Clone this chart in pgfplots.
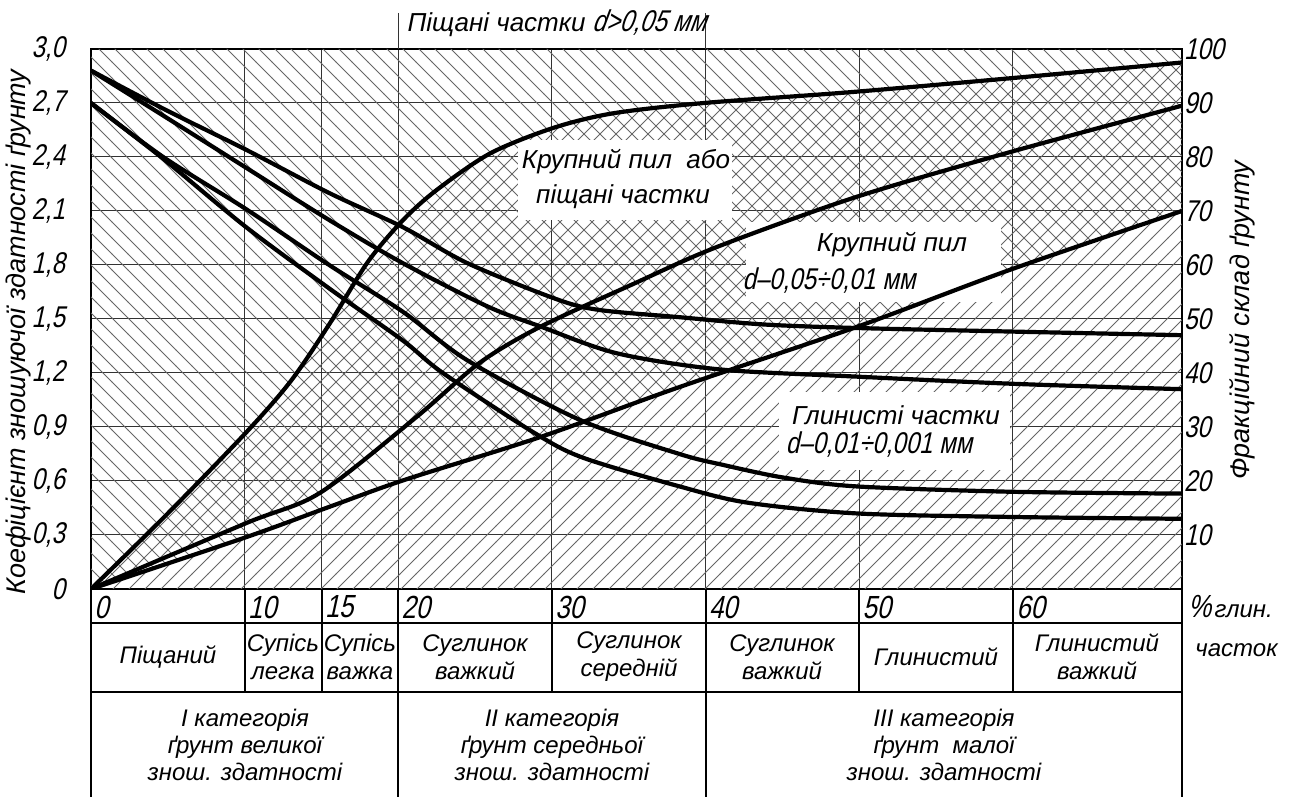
\documentclass[border=0pt]{standalone}
\usepackage{fontspec}
\setmainfont{Liberation Sans}
\newfontfamily\gost[FakeStretch=0.8,FakeSlant=0.22]{Liberation Sans}
\usepackage{pgfplots}
\usepackage{pgfplotstable}
\pgfplotsset{compat=1.18}
\usepgfplotslibrary{fillbetween}
\usetikzlibrary{patterns}
\pgfdeclarepatternformonly{hnw}{\pgfqpoint{-1pt}{-1pt}}{\pgfqpoint{9pt}{9pt}}{\pgfqpoint{8pt}{8pt}}{%
  \pgfsetlinewidth{0.4pt}%
  \pgfpathmoveto{\pgfqpoint{-0.1pt}{8.1pt}}%
  \pgfpathlineto{\pgfqpoint{8.1pt}{-0.1pt}}%
  \pgfusepath{stroke}}
\pgfdeclarepatternformonly{hne}{\pgfqpoint{-1pt}{-1pt}}{\pgfqpoint{9pt}{9pt}}{\pgfqpoint{8pt}{8pt}}{%
  \pgfsetlinewidth{0.4pt}%
  \pgfpathmoveto{\pgfqpoint{-0.1pt}{-0.1pt}}%
  \pgfpathlineto{\pgfqpoint{8.1pt}{8.1pt}}%
  \pgfusepath{stroke}}

% rising curves, % of soil (right axis)
\pgfplotstableread{
x y
0 0
5 14
10.1 29
13 38.5
15.5 49
18 60.5
20.3 68.3
22.5 73.9
26.0 80.7
30.1 85.4
34.0 88.1
39.9 90.0
49.4 92.0
59.9 94.6
71 97.5
}\tabS
\pgfplotstableread{
x y
0 0
10.1 12.2
14.9 17.8
21.2 31.9
25.3 41.9
29.2 48.5
35.3 56.5
40.7 63.3
49.8 72.6
59.8 80.9
71 89.5
}\tabM
\pgfplotstableread{
x y
0 0
10.1 9.6
15.5 15.2
20.4 20.2
29.2 28.1
38.3 37.4
49.8 48.5
59.8 59.1
71 70
}\tabC
% descending curves, bearing coefficient (left axis)
\pgfplotstableread{
x y
0 2.88
4.9 2.66
10.1 2.44
15.5 2.20
20.3 2.01
24.5 1.81
30.3 1.61
33.1 1.55
38.3 1.51
43.7 1.47
49.8 1.45
60 1.43
71 1.41
}\tabDa
\pgfplotstableread{
x y
0 2.88
4.7 2.63
10.1 2.34
15.5 2.05
20.3 1.81
25.8 1.57
29.2 1.46
34.2 1.31
40.9 1.22
49.8 1.18
60 1.14
71 1.11
}\tabDb
\pgfplotstableread{
x y
0 2.7
4.7 2.40
10.1 2.11
15.5 1.80
20.3 1.54
24.5 1.27
31.8 0.94
38.3 0.75
41.1 0.69
45 0.62
49.8 0.57
60 0.54
71 0.53
}\tabDc
\pgfplotstableread{
x y
0 2.7
4.7 2.39
10.1 2.01
15.5 1.67
20.3 1.38
22.9 1.20
28.8 0.87
32.0 0.73
38.3 0.57
42.7 0.48
49.8 0.42
60 0.40
71 0.39
}\tabDd

\begin{document}
\begin{tikzpicture}
\begin{axis}[
  at={(45.5pt,104.5pt)}, anchor=south west, scale only axis,
  width=545.5pt, height=270pt,
  xmin=0, xmax=71, ymin=0, ymax=100,
  xtick={10,15,20,30,40,50,60}, xticklabels={},
  ytick={10,20,30,40,50,60,70,80,90,100},
  yticklabels={10,20,30,40,50,60,70,80,90,100},
  yticklabel pos=right,
  yticklabel style={font=\gost\fontsize{15}{15}\selectfont, anchor=west, xshift=-2.5pt},
  major tick length=0pt,
  grid=major, major grid style={black!80, line width=0.5pt},
  axis line style={line width=1pt},
]
\addplot[draw=none, smooth, name path=S] table[x=x,y=y]{\tabS};
\addplot[draw=none, smooth, name path=M] table[x=x,y=y]{\tabM};
\addplot[draw=none, smooth, name path=C] table[x=x,y=y]{\tabC};
\path[name path=top] (axis cs:0,100) -- (axis cs:71,100);
\path[name path=bot] (axis cs:0,0) -- (axis cs:71,0);
\addplot[pattern=hnw, pattern color=black!60, draw=none] fill between[of=C and top];
\addplot[pattern=hne, pattern color=black!60, draw=none] fill between[of=C and bot];
\addplot[pattern=hne, pattern color=black!60, draw=none] fill between[of=S and M];
\addplot[pattern=hne, pattern color=black!60, draw=none] fill between[of=M and C, soft clip={domain=0:20}];
\fill[white] (axis cs:27.8,68.3) rectangle (axis cs:41.7,83.1);
\fill[white] (axis cs:42.6,53.2) rectangle (axis cs:59.2,68.0);
\fill[white] (axis cs:44.8,22.0) rectangle (axis cs:59.8,36.5);
\addplot[black, line width=2.1pt, smooth] table[x=x,y=y]{\tabS};
\addplot[black, line width=2.1pt, smooth] table[x=x,y=y]{\tabM};
\addplot[black, line width=2.1pt, smooth] table[x=x,y=y]{\tabC};
\end{axis}
\begin{axis}[
  at={(45.5pt,104.5pt)}, anchor=south west, scale only axis,
  width=545.5pt, height=270pt,
  xmin=0, xmax=71, ymin=0, ymax=3,
  xtick=\empty,
  ytick={0,0.3,0.6,0.9,1.2,1.5,1.8,2.1,2.4,2.7,3.0},
  yticklabels={0,{0,3},{0,6},{0,9},{1,2},{1,5},{1,8},{2,1},{2,4},{2,7},{3,0}},
  yticklabel style={font=\gost\fontsize{15}{15}\selectfont, anchor=east, xshift=-9.5pt},
  major tick length=0pt,
  axis line style={draw=none},
]
\addplot[black, line width=2.1pt, smooth] table[x=x,y=y]{\tabDa};
\addplot[black, line width=2.1pt, smooth] table[x=x,y=y]{\tabDb};
\addplot[black, line width=2.1pt, smooth] table[x=x,y=y]{\tabDc};
\addplot[black, line width=2.1pt, smooth] table[x=x,y=y]{\tabDd};
\end{axis}
\begin{scope}[shift={(0pt,399pt)}, x=0.5pt, y=-0.5pt]
% top label
\draw[black!80, line width=0.5pt] (398.3,13) -- (398.3,49) (705.6,13) -- (705.6,49);
\node at (557,23) {\itshape\fontsize{13}{13}\selectfont Піщані частки {\gost\fontsize{15}{15}\selectfont d>0,05 мм}};
% axis titles
\node[rotate=90, font=\itshape\fontsize{13.5}{13.5}\selectfont] at (19,332) {Коефіцієнт зношуючої здатності ґрунту};
\node[rotate=90, font=\itshape\fontsize{13.5}{13.5}\selectfont] at (1242,320) {Фракційний склад ґрунту};
% annotations
\node[font=\itshape\fontsize{13}{13}\selectfont] at (626,162) {Крупний пил\ \ або};
\node[font=\itshape\fontsize{13}{13}\selectfont] at (623,197) {піщані частки};
\node[font=\itshape\fontsize{13}{13}\selectfont] at (892,245) {Крупний пил};
\node[font=\gost\fontsize{15}{15}\selectfont] at (829,281) {d–0,05÷0,01 мм};
\node[font=\itshape\fontsize{13}{13}\selectfont] at (896,415) {Глинисті частки};
\node[font=\gost\fontsize{15}{15}\selectfont] at (879,445) {d–0,01÷0,001 мм};
% table
\draw[line width=0.9pt] (91,589) -- (91,797) (1182,589) -- (1182,797)
  (398.3,589) -- (398.3,797) (705.6,589) -- (705.6,797)
  (244.7,589) -- (244.7,692) (321.6,589) -- (321.6,692) (552,589) -- (552,692)
  (859.3,589) -- (859.3,692) (1013,589) -- (1013,692)
  (91,623) -- (1182,623) (91,692) -- (1182,692);
\foreach \xx/\lab in {91/0,244.7/10,321.6/15,398.3/20,552/30,705.6/40,859.3/50,1013/60}
  \node[anchor=west, inner sep=1.5pt, font=\gost\fontsize{16}{16}\selectfont] at (\xx,607) {\lab};
\node[anchor=west, inner sep=1pt] at (1186,607) {{\gost\fontsize{16}{16}\selectfont\%}\,{\itshape\fontsize{12}{12}\selectfont глин.}};
\node[anchor=west, inner sep=1pt, font=\itshape\fontsize{12}{12}\selectfont] at (1193,650) {часток};
\begin{scope}[every node/.style={align=center, font=\itshape\fontsize{12}{14}\selectfont}]
\node at (168,657) {Піщаний};
\node at (283,657) {Супісь\\легка};
\node at (360,657) {Супісь\\важка};
\node at (475,657) {Суглинок\\важкий};
\node at (629,657) {Суглинок\\середній};
\node at (782,657) {Суглинок\\важкий};
\node at (936,657) {Глинистий};
\node at (1097,657) {Глинистий\\важкий};
\node[font=\itshape\fontsize{12}{13.5}\selectfont] at (245,745) {I категорія\\ґрунт великої\\знош. здатності};
\node[font=\itshape\fontsize{12}{13.5}\selectfont] at (552,745) {II категорія\\ґрунт середньої\\знош. здатності};
\node[font=\itshape\fontsize{12}{13.5}\selectfont] at (944,745) {III категорія\\ґрунт\ \ малої\\знош. здатності};
\end{scope}
\end{scope}
\pgfresetboundingbox
\path[use as bounding box] (0,0) rectangle (648.5pt,399pt);
\end{tikzpicture}
\end{document}
